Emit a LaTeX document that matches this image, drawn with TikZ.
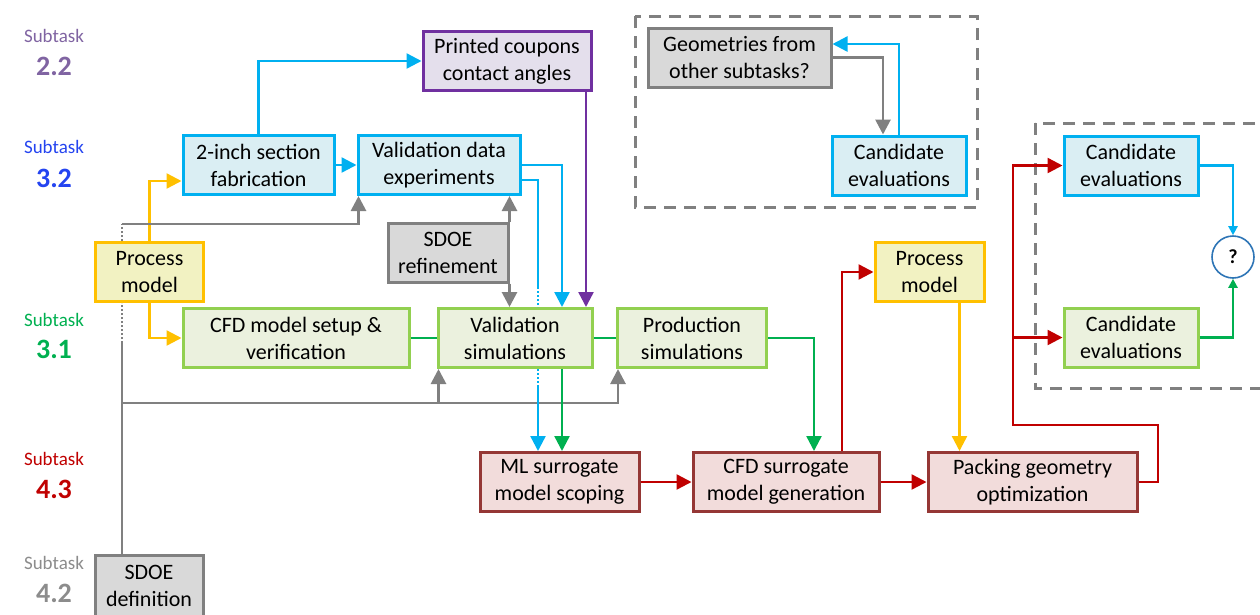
\documentclass[tikz,border=0pt]{standalone}
\usepackage{fontspec}
\setmainfont{Carlito}
\usetikzlibrary{arrows.meta,calc}

% box colours (border / fill)
\definecolor{cBlue}{HTML}{00B0F0}
\definecolor{cBlueF}{HTML}{DAEEF3}
\definecolor{cPurple}{HTML}{7030A0}
\definecolor{cPurpleF}{HTML}{E4DFEC}
\definecolor{cGray}{HTML}{808080}
\definecolor{cGrayF}{HTML}{D9D9D9}
\definecolor{cGreen}{HTML}{92D050}
\definecolor{cGreenF}{HTML}{EBF1DE}
\definecolor{cRed}{HTML}{953735}
\definecolor{cRedF}{HTML}{F2DCDB}
\definecolor{cGold}{HTML}{FFC000}
\definecolor{cGoldF}{HTML}{F2F2C2}
% connector colours
\definecolor{lGreen}{HTML}{00B050}
\definecolor{lRed}{HTML}{C00000}
\definecolor{lCircle}{HTML}{2E75B6}
% subtask label colours
\definecolor{tPurple}{HTML}{8064A2}
\definecolor{tBlue}{HTML}{2444F0}
\definecolor{tGreen}{HTML}{00B050}
\definecolor{tRed}{HTML}{C00000}
\definecolor{tGray}{HTML}{8C8C8C}

\begin{document}
\begin{tikzpicture}[x=1pt,y=-1pt,
  box/.style={draw, line width=3pt, minimum height=59pt, align=center,
    inner sep=2pt, text=black, font=\fontsize{22}{27}\selectfont},
  bluebox/.style={box, draw=cBlue, fill=cBlueF},
  purplebox/.style={box, draw=cPurple, fill=cPurpleF},
  graybox/.style={box, draw=cGray, fill=cGrayF},
  greenbox/.style={box, draw=cGreen, fill=cGreenF},
  redbox/.style={box, draw=cRed, fill=cRedF},
  goldbox/.style={box, draw=cGold, fill=cGoldF},
  lab/.style={inner sep=0pt, font=\fontsize{19}{22}\selectfont},
  num/.style={inner sep=0pt, font=\fontsize{28}{32}\selectfont\bfseries},
  tip/.style={-{Triangle[length=15pt,width=15pt]}},
  smalltip/.style={-{Triangle[length=9pt,width=9pt]}},
  bline/.style={draw=cBlue, line width=2.4pt},
  gline/.style={draw=cGray, line width=2.8pt},
  grline/.style={draw=lGreen, line width=2.4pt},
  rline/.style={draw=lRed, line width=2.4pt},
  pline/.style={draw=cPurple, line width=2.4pt},
  yline/.style={draw=cGold, line width=2.4pt},
  dashbox/.style={draw=cGray, line width=3pt, dash pattern=on 12pt off 8pt},
  dotseg/.style={dash pattern=on 2pt off 2pt}
]
\useasboundingbox (0,0) rectangle (1260,614);

% ---- subtask labels ----
\node[lab, text=tPurple] (s22a) at (54,36) {Subtask};
\node[num, text=tPurple] (s22b) at (54,66) {2.2};
\node[lab, text=tBlue] (s32a) at (54,147) {Subtask};
\node[num, text=tBlue] (s32b) at (54,178) {3.2};
\node[lab, text=tGreen] (s31a) at (54,320) {Subtask};
\node[num, text=tGreen] (s31b) at (54,349) {3.1};
\node[lab, text=tRed] (s43a) at (54,459) {Subtask};
\node[num, text=tRed] (s43b) at (54,489) {4.3};
\node[lab, text=tGray] (s42a) at (54,563) {Subtask};
\node[num, text=tGray] (s42b) at (54,593) {4.2};

% ---- dashed groups ----
\draw[dashbox] (635,16) rectangle (977,207);
\draw[dashbox] (1035,123) rectangle (1280,388);

% ---- boxes ----
\node[goldbox, minimum width=108pt] (pmL) at (149.5,272) {Process\\model};
\node[bluebox, minimum width=151pt] (fab) at (258.5,165) {2-inch section\\fabrication};
\node[bluebox, minimum width=162pt] (vde) at (439,165) {Validation data\\experiments};
\node[purplebox, minimum width=168pt] (pca) at (507,61) {Printed coupons\\contact angles};
\node[graybox, minimum width=120pt] (sref) at (448,252.5) {SDOE\\refinement};
\node[greenbox, minimum width=226pt] (cfd) at (296,338) {CFD model setup \&\\verification};
\node[greenbox, minimum width=154pt] (vsim) at (515,338) {Validation\\simulations};
\node[greenbox, minimum width=149pt] (psim) at (692,338) {Production\\simulations};
\node[redbox, minimum width=159pt] (ml) at (559.5,482) {ML surrogate\\model scoping};
\node[redbox, minimum width=186pt] (cfds) at (786,482) {CFD surrogate\\model generation};
\node[redbox, minimum width=209pt] (pgo) at (1032.5,482) {Packing geometry\\optimization};
\node[goldbox, minimum width=109pt] (pmR) at (929.5,272) {Process\\model};
\node[graybox, minimum width=108pt, minimum height=62pt] (sdef) at (149,586) {SDOE\\definition};
\node[graybox, minimum width=183pt] (geo) at (739.5,57.5) {Geometries from\\other subtasks?};
\node[bluebox, minimum width=134pt] (candT) at (899,165.5) {Candidate\\evaluations};
\node[bluebox, minimum width=134pt] (candB) at (1131,165.5) {Candidate\\evaluations};
\node[greenbox, minimum width=134pt] (candG) at (1131,337.5) {Candidate\\evaluations};
\node[circle, draw=lCircle, line width=1.6pt, fill=white, minimum size=42pt,
  inner sep=0pt, font=\fontsize{20}{24}\selectfont\bfseries] (q) at (1233,257) {?};

% ---- process model (left) outputs ----
\draw[yline, tip] (pmL.north) |- ([yshift=-16pt]fab.west);
\draw[yline, tip] (pmL.south) |- (cfd.west);

% ---- SDOE definition trunk ----
\coordinate (gTop) at (122,224);
\coordinate (gLow) at (122,343);
\coordinate (gBus) at (122,403);
\draw[gline] (sdef.north -| gLow) -- (gLow);
\draw[gline, dotseg] (gLow) -- (gLow |- pmL.south);
\draw[gline, dotseg] (gTop |- pmL.north) -- (gTop);
\draw[gline, tip] (gTop) -| ([xshift=2pt]vde.south west);
\draw[gline, tip] (gBus) -| ([xshift=2pt]vsim.south west);
\draw[gline, tip] (gBus) -| ([xshift=2pt]psim.south west);

% ---- SDOE refinement ----
\draw[gline, tip] (sref.north east) -- (sref.north east |- vde.south);
\draw[gline, tip] (sref.south east) -- (sref.south east |- vsim.north);

% ---- experiments ----
\draw[bline, tip] (fab.east) -- (vde.west);
\draw[bline, tip] (fab.north) |- (pca.west);
\draw[bline, tip] (vde.east) -| ([xshift=47pt]vsim.north);
\coordinate (bA) at (538,287);
\coordinate (bB) at (538,387);
\draw[bline] ([yshift=-15pt]vde.east) -| (bA);
\draw[bline, dotseg] (bA) -- (bA |- vsim.north);
\draw[bline, dotseg] (bB |- vsim.south) -- (bB);
\draw[bline, tip] (bB) -- (bB |- ml.north);
\draw[pline, tip] ([xshift=79pt]pca.south) -- ([xshift=79pt]pca.south |- vsim.north);

% ---- simulations ----
\draw[grline] (cfd.east) -- (vsim.west);
\draw[grline] (vsim.east) -- (psim.west);
\draw[grline, tip] ([xshift=47pt]vsim.south) -- ([xshift=47pt]vsim.south |- ml.north);
\draw[grline, tip] (psim.east) -| ([xshift=28pt]cfds.north);

% ---- surrogate chain ----
\draw[rline, tip] (ml.east) -- (cfds.west);
\draw[rline, tip] (cfds.east) -- (pgo.west);
\draw[rline, tip] ([xshift=56pt]cfds.north) |- (pmR.west);
\draw[yline, tip] ([xshift=30pt]pmR.south) -- ([xshift=30pt]pmR.south |- pgo.north);
\coordinate (r1) at (1158,425);
\coordinate (r2) at (1013,425);
\draw[rline, tip] (pgo.east) -| (r1) -- (r2) |- (candB.west);
\draw[rline, tip] (r2 |- candG.west) -- (candG.west);

% ---- geometry loop ----
\draw[gline, tip] (geo.east) -| ([xshift=-16pt]candT.north);
\draw[bline, tip] (candT.north) |- ([yshift=13.5pt]geo.east);

% ---- comparison ----
\draw[bline, smalltip] (candB.east) -| (q.north);
\draw[grline, smalltip] (candG.east) -| (q.south);
\end{tikzpicture}
\end{document}
